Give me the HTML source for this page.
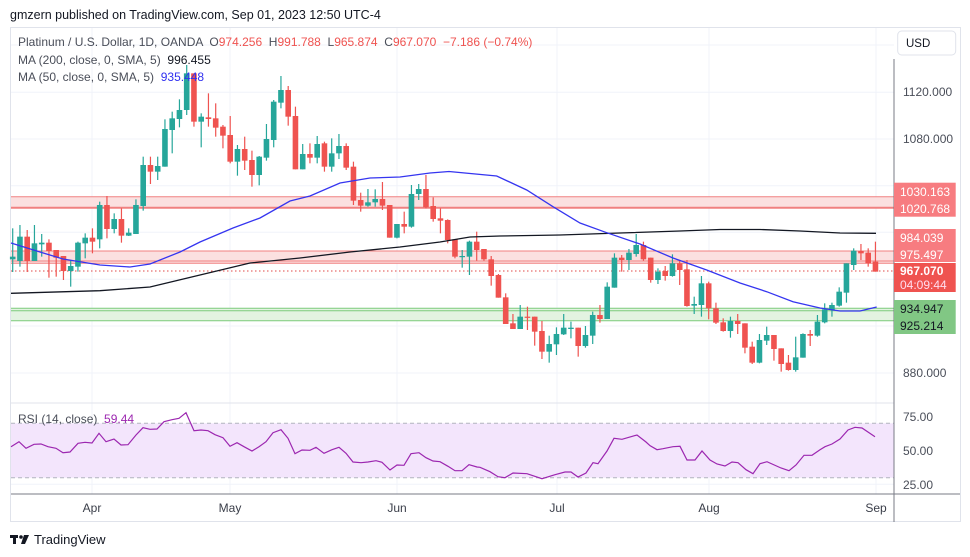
<!DOCTYPE html>
<html><head><meta charset="utf-8"><style>
html,body{margin:0;padding:0;background:#fff;width:970px;height:557px;overflow:hidden;font-family:"Liberation Sans",sans-serif}
svg{position:absolute;left:0;top:0}
text{white-space:pre}
</style></head><body>
<svg id="c" width="970" height="557" xmlns="http://www.w3.org/2000/svg" font-family="Liberation Sans, sans-serif" xml:space="preserve">
<text x="10" y="19" font-size="12.5" fill="#131722">gmzern published on TradingView.com, Sep 01, 2023 12:50 UTC-4</text>
<rect x="10.5" y="27.5" width="950" height="494" fill="none" stroke="#e0e3eb"/>
<g id="grid" stroke="#f0f3fa" stroke-width="1"></g>
<rect x="11" y="196.7" width="883" height="11" fill="#fbe0e0"/>
<line x1="11" x2="894" y1="196.7" y2="196.7" stroke="#f08080"/>
<line x1="11" x2="894" y1="207.7" y2="207.7" stroke="#f08080" stroke-width="2"/>
<rect x="11" y="251" width="883" height="12.3" fill="#fbe0e0"/>
<line x1="11" x2="894" y1="251" y2="251" stroke="#f08080"/>
<line x1="11" x2="894" y1="261" y2="261" stroke="#f08080"/>
<line x1="11" x2="894" y1="263.3" y2="263.3" stroke="#f08080"/>
<line x1="11" x2="894" y1="271" y2="271" stroke="#e04848" stroke-dasharray="1.5,2.5"/>
<rect x="11" y="308.3" width="883" height="12.4" fill="#e3f3e1"/>
<line x1="11" x2="894" y1="308.3" y2="308.3" stroke="#7ccb7c"/>
<line x1="11" x2="894" y1="310.7" y2="310.7" stroke="#7ccb7c"/>
<line x1="11" x2="894" y1="320.7" y2="320.7" stroke="#7ccb7c"/>
<g id="cand"></g>
<polyline id="ma200" fill="none" stroke="#131722" stroke-width="1.3"/>
<polyline id="ma50" fill="none" stroke="#3535f0" stroke-width="1.3"/>
<text x="18" y="46" font-size="12" fill="#4a4e59">Platinum / U.S. Dollar, 1D, OANDA  O<tspan fill="#ef5350">974.256</tspan>  H<tspan fill="#ef5350">991.788</tspan>  L<tspan fill="#ef5350">965.874</tspan>  C<tspan fill="#ef5350">967.070  −7.186 (−0.74%)</tspan></text>
<text x="18" y="64" font-size="12" fill="#4a4e59">MA (200, close, 0, SMA, 5)  <tspan fill="#131722">996.455</tspan></text>
<text x="18" y="81" font-size="12" fill="#4a4e59">MA (50, close, 0, SMA, 5)  <tspan fill="#3030f0">935.448</tspan></text>
<line x1="11" x2="894" y1="403" y2="403" stroke="#e0e3eb"/>
<rect x="11" y="423.3" width="883" height="54.4" fill="#f3e5fc"/>
<line x1="11" x2="894" y1="423.3" y2="423.3" stroke="#b2b5be" stroke-dasharray="4,3"/>
<line x1="11" x2="894" y1="477.7" y2="477.7" stroke="#b2b5be" stroke-dasharray="4,3"/>
<polyline id="rsi" fill="none" stroke="#9c27b0" stroke-width="1.2"/>
<text x="18" y="423" font-size="12" fill="#4a4e59">RSI (14, close)  <tspan fill="#9c27b0">59.44</tspan></text>
<line x1="11" x2="960" y1="494" y2="494" stroke="#787b86"/>
<line x1="894" x2="894" y1="59" y2="522" stroke="#787b86"/>
<rect x="897.7" y="31" width="58" height="24" rx="4" fill="#fff" stroke="#e0e3eb"/>
<text x="906" y="47" font-size="11.5" fill="#131722">USD</text>
<g font-size="12" fill="#4a4e59">
<text x="903" y="96">1120.000</text>
<text x="903" y="143">1080.000</text>
<text x="903" y="377">880.000</text>
<text x="903" y="421">75.00</text>
<text x="903" y="455">50.00</text>
<text x="903" y="489">25.00</text>
</g>
<rect x="894" y="182.7" width="61.7" height="34" fill="#f77c80"/>
<text x="900" y="196" font-size="12" fill="#fff">1030.163</text>
<text x="900" y="213" font-size="12" fill="#fff">1020.768</text>
<rect x="894" y="229" width="61.7" height="33" fill="#f77c80"/>
<text x="900" y="242" font-size="12" fill="#fff">984.039</text>
<text x="900" y="259" font-size="12" fill="#fff">975.497</text>
<rect x="894" y="263" width="61.7" height="29" fill="#ef5350"/>
<text x="900" y="275" font-size="12" fill="#fff" font-weight="bold">967.070</text>
<text x="900" y="289" font-size="12" fill="#fde">04:09:44</text>
<rect x="894" y="300" width="61.7" height="34" fill="#81c784"/>
<text x="900" y="313" font-size="12" fill="#131722">934.947</text>
<text x="900" y="330" font-size="12" fill="#131722">925.214</text>
<g font-size="12" fill="#3a3e49" text-anchor="middle">
<text x="92" y="512">Apr</text><text x="230" y="512">May</text><text x="397" y="512">Jun</text>
<text x="557" y="512">Jul</text><text x="709" y="512">Aug</text><text x="876" y="512">Sep</text>
</g>
<g fill="#131722"><rect x="10" y="535" width="8" height="3"/><rect x="13" y="535" width="3" height="9"/><circle cx="21" cy="537" r="1.8"/><path d="M24 535 L29 535 L25 544 L21 544 Z"/></g>
<text x="34" y="544" font-size="13" fill="#131722">TradingView</text>
</svg>
<script>
var S='http://www.w3.org/2000/svg';
function el(t,a,p){var e=document.createElementNS(S,t);for(var k in a)e.setAttribute(k,a[k]);p.appendChild(e);return e;}
var g=document.getElementById('grid');
[45,92.3,139,185.7,232.3,279.3,326,373].forEach(function(y){el('line',{x1:11,x2:894,y1:y,y2:y},g);});
[450,484.3].forEach(function(y){el('line',{x1:11,x2:894,y1:y,y2:y},g);});
[92,230,397,557,709,876].forEach(function(x){el('line',{x1:x,x2:x,y1:28,y2:494},g);});
var A=[[598,590,505,636],[603,530,495,620],[530,603,510,636],[603,550,495,603],[553,548,522,590],[548,573,538,653],[570,593,570,650],[588,633,588,660],[633,618,600,680],[620,548,545,635],[550,533,520,595],[533,545,505,580],[538,435,425,565],[435,507,408,535],[507,477,460,520],[477,527,445,548],[527,518,505,528],[522,435,418,522],[438,315,290,452],[315,335,290,372],[335,318,290,360],[320,207,178,320],[210,175,155,280],[177,150,118,202],[150,40,15,165],[40,185,40,200],[185,170,160,262],[172,177,100,200],[175,203,130,230],[200,227,195,265],[225,305,168,310],[305,267,255,347],[267,302,230,330],[300,345,272,380],[345,290,288,376],[293,237,192,302],[240,125,120,262],[128,90,48,145],[90,170,78,197],[168,328,140,328],[328,282,252,328],[282,293,250,310],[293,252,228,310],[250,320,245,335],[320,280,235,335],[280,258,222,297],[258,323,250,330],[320,422,305,435],[420,437,398,455],[437,427,387,440],[427,417,388,440],[417,437,366,450],[435,533,435,533],[533,492,492,535],[492,500,455,520],[500,402,375,503],[402,387,372,420],[387,442,345,445],[438,477,412,485],[475,482,445,520],[480,540,478,550]];
var B=[[208,260,208,265],[260,258,240,293],[260,215,212,315],[215,240,185,272],[237,268,237,272],[268,318,258,347],[315,383,312,383],[382,462,370,462],[460,477,432,477],[477,440,405,477],[440,443,410,480],[440,485,440,527],[483,545,453,567],[545,522,497,578],[523,492,472,555],[493,473,432,495],[477,473,455,505],[473,528,473,560],[528,495,468,533],[497,435,425,522],[435,447,405,458],[447,350,337,447],[353,263,250,353],[263,270,255,305],[270,248,237,300],[252,225,192,260],[225,268,215,272],[263,330,263,338],[330,305,295,342],[303,318,288,332],[318,280,253,320],[280,300,270,345],[298,408,270,410],[407,402,380,432],[405,340,318,440],[340,415,335,448],[415,458,398,462],[457,483,445,485],[483,453,440,503],[453,462,432,492],[460,533,460,550],[530,578,515,582],[578,510,492,580],[512,495,470,525],[495,537,495,572],[535,582,535,605],[578,600,555,602],[600,562,500,605],[563,492,490,563],[492,497,480,528],[497,455,435,500],[457,418,400,460],[420,405,398,440],[407,365,352,410],[368,280,280,398],[285,242,235,300],[243,250,222,270],[248,280,235,290],[275,305,215,305]];
var C=[];A.forEach(function(a){C.push(a.map(function(v){return 60+v/3;}));});
B.forEach(function(a){C.push(a.map(function(v){return 170+v/3;}));});
var cg=document.getElementById('cand');
C.forEach(function(c,i){var x=12.7+i*7.25;var up=c[1]<=c[0];var col=up?'#26a69a':'#ef5350';
el('line',{x1:x,x2:x,y1:c[2],y2:c[3],stroke:col,'stroke-width':1.2},cg);
var t=Math.min(c[0],c[1]),h=Math.max(1.2,Math.abs(c[0]-c[1]));
el('rect',{x:x-2.8,y:t,width:5.6,height:h,fill:col},cg);});
document.getElementById('ma50').setAttribute('points','11,243 40,252 63,259 100,265 130,267 150,264 180,252 200,242 233,228 260,218 290,201 310,196 340,183 370,178 400,177 430,173 449,171.5 496.7,176 526.7,190 553,206.7 580,223 606.7,232.7 640,244 673,258 706.7,270 740,283 766.7,291.7 793,301.7 820,308 840,311 860,311 876.7,307');
document.getElementById('ma200').setAttribute('points','11,293.3 100,290.7 150,287 200,275 250,263 300,258 350,252 400,247 440,242 470,237 500,236 560,235 620,233 680,231 720,229.5 760,229.5 800,231 840,233 876,233.3');
document.getElementById('rsi').setAttribute('points','11,446.7 19,441.7 26,448.3 34,444.3 41,444 48,446.7 56,448.3 63,452.7 70,452 78,443.3 85,442.3 92,443 99,433.3 106,441.7 114,439 121,445 128,444.7 136,435 143,427.7 150,429.3 157,429 164,421.7 172,419.7 179,418.3 186,412.7 194,430.7 201,430 208,430.7 215,434.7 223,437.7 230,446.3 237,442.7 244,446.7 252,451 259,446.7 266,441.7 273,432.7 281,429.7 288,438.3 295,453.7 302,450 310,450.3 316,447.3 324,453.3 332,449.7 339,447.3 346,453.3 353,462 361,462.7 368,462 376,460.7 382,462.3 390,470 397,465 404,465.3 411,453.7 419,452.7 426,457.7 433,461 440,461.7 448,466.3 455,470.7 462,470.7 469,464.7 477,467 480,467.3 490,471.7 498,476.7 505,477.7 513,473 527,473.7 542,478.7 555,474.7 565,472 571,472 578,477 586,473 593,462.7 598,463.7 607,451 614,438.3 622,439.3 637,435 646,442 650,445.7 657,449.7 663,448.7 673,446.7 680,446.3 687,460 695,460 702,451 710,460 717,464 725,466 732,462 738,462.7 746,469.7 753,473.7 760,463.7 767,461.7 781,468 789,470.7 796,465 804,455.3 812,455.3 820,449.7 825,446.7 832,444 840,439 848,430 855,427.3 862,428 875,436.7');
</script>
</body></html>
